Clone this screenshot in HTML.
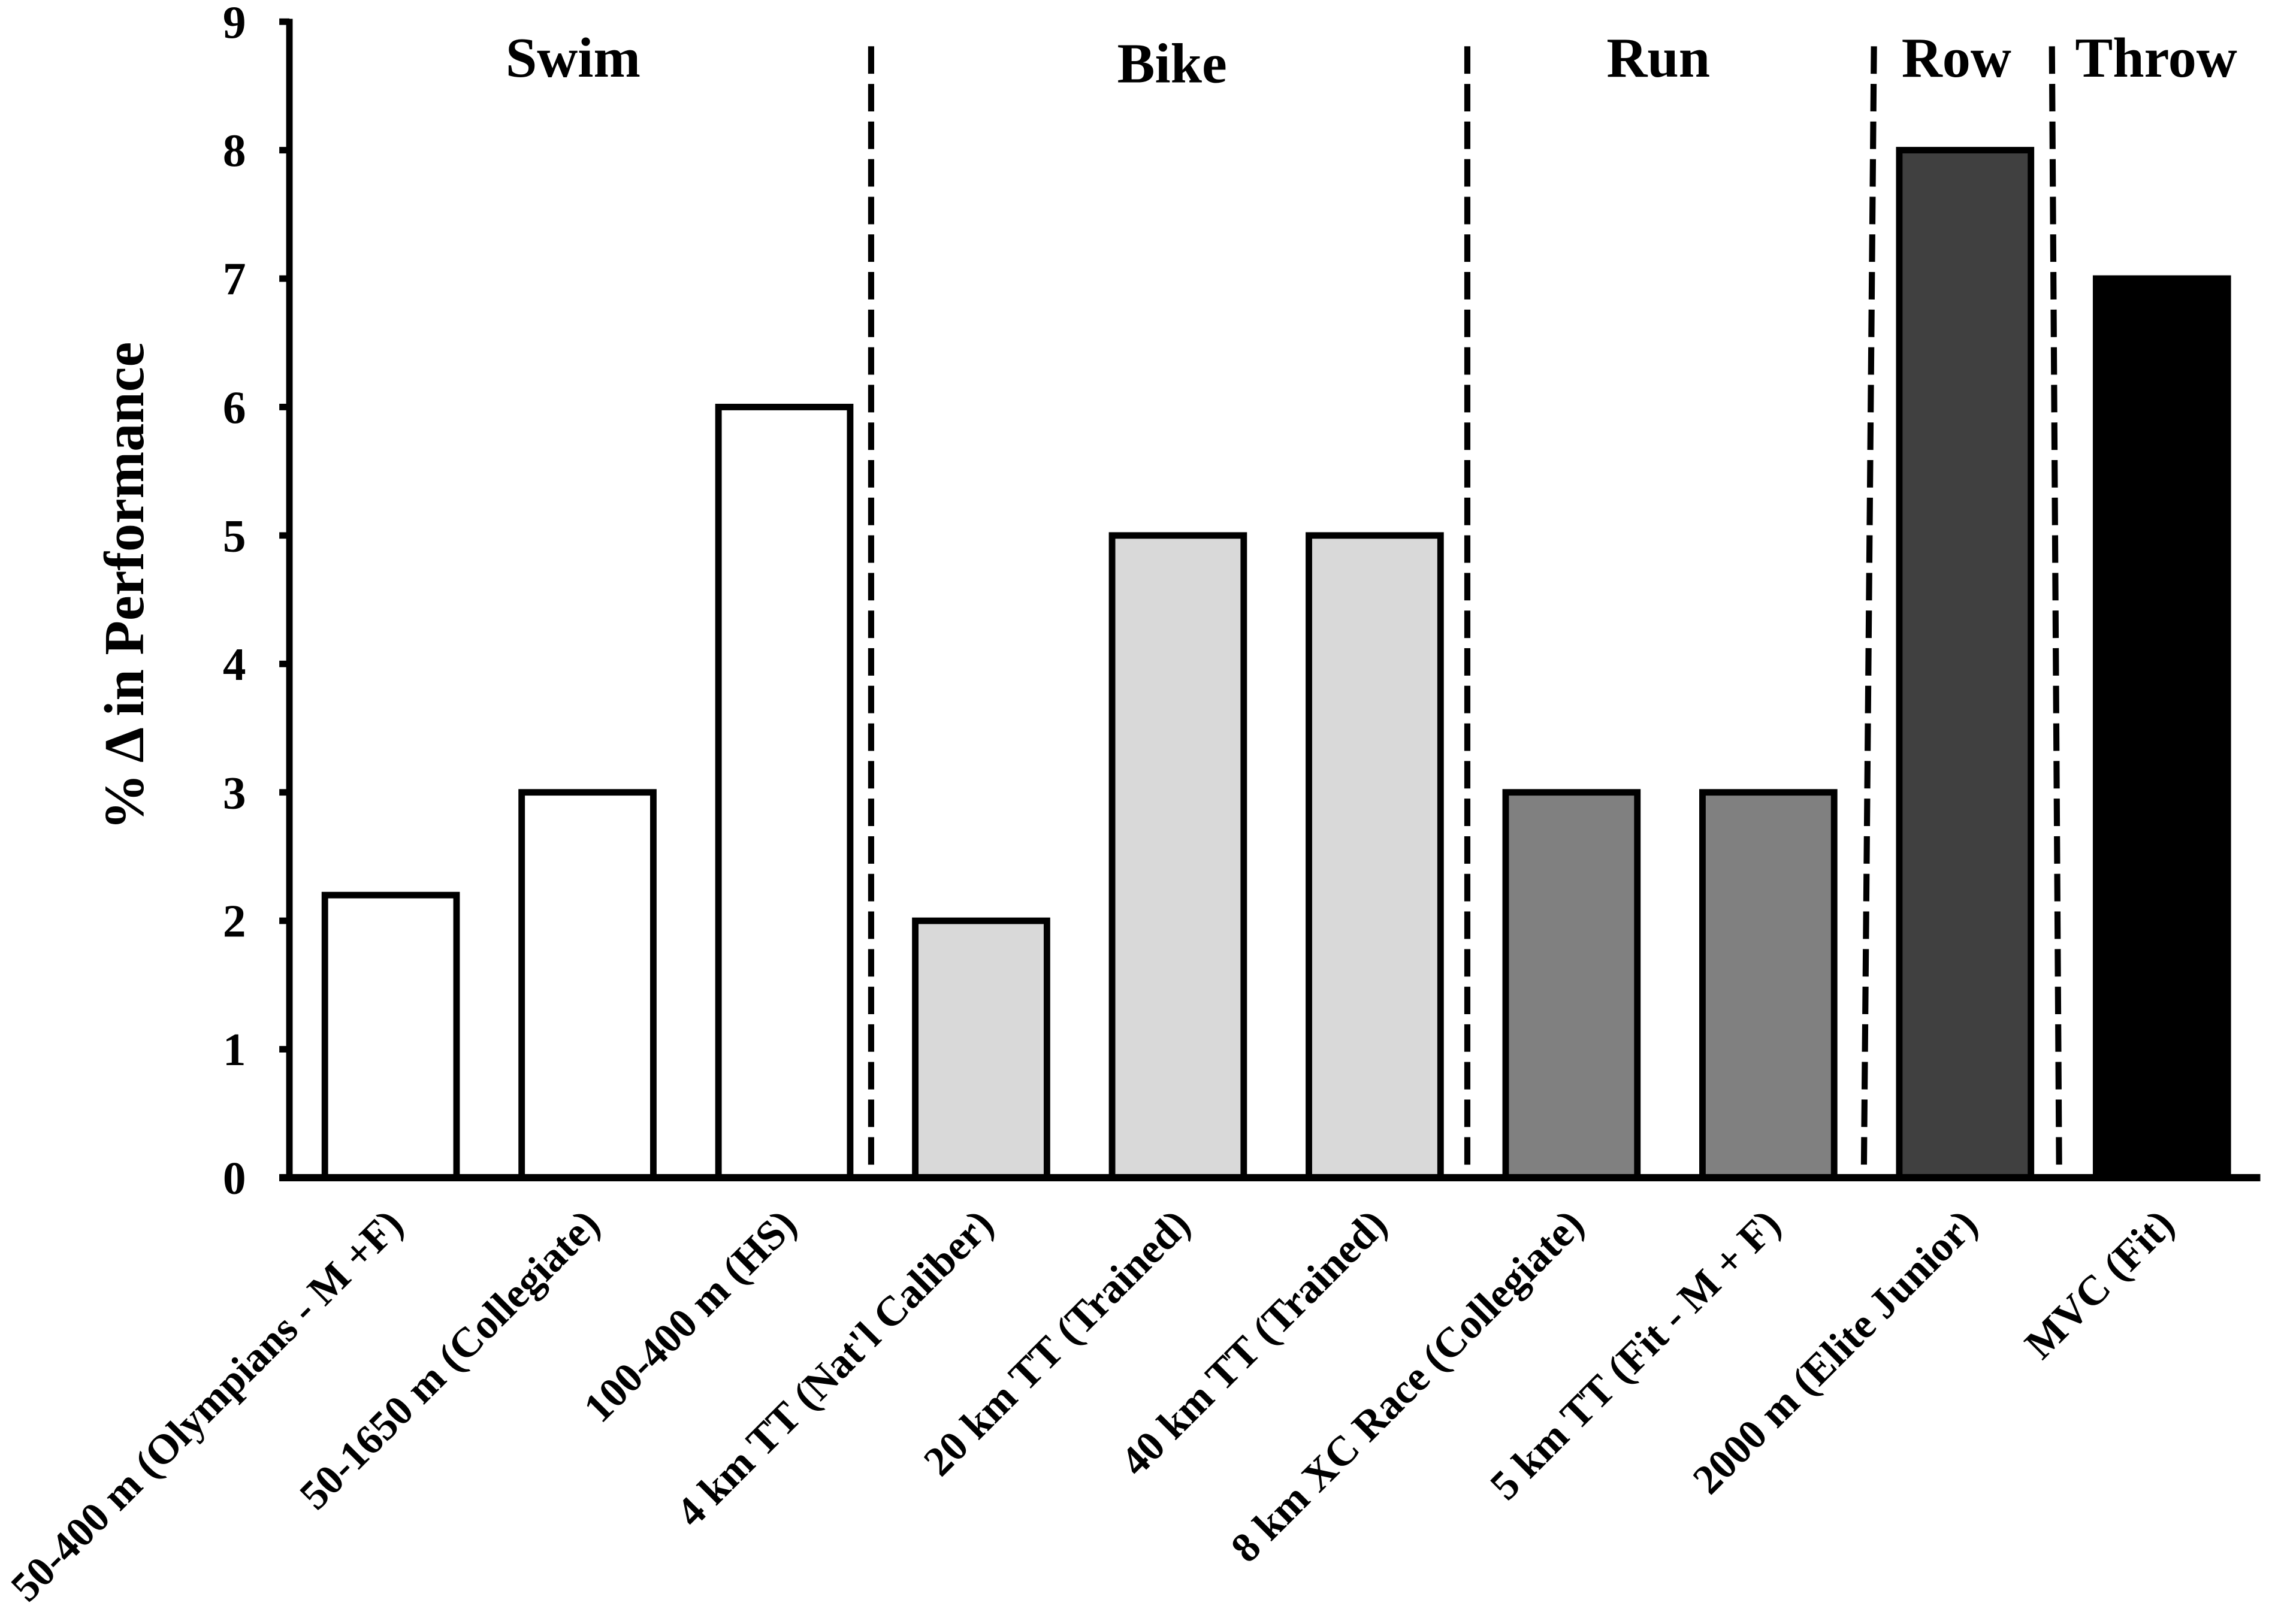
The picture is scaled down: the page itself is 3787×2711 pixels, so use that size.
<!DOCTYPE html>
<html><head><meta charset="utf-8"><style>
html,body{margin:0;padding:0;background:#fff;}
svg{display:block;}
text{font-family:"Liberation Serif",serif;font-weight:bold;fill:#000;}
</style></head><body>
<svg id="chart" width="3787" height="2711" viewBox="0 0 1568 1122.5" preserveAspectRatio="none" xmlns="http://www.w3.org/2000/svg">
<g id="plot"></g>
</svg>
<script>
const categories = ["50-400 m (Olympians - M +F)","50-1650 m (Collegiate)","100-400 m (HS)","4 km TT (Nat'l Caliber)","20 km TT (Trained)","40 km TT (Trained)","8 km XC Race (Collegiate)","5 km TT (Fit - M + F)","2000 m (Elite Junior)","MVC (Fit)"];
const values = [2.2, 3, 6, 2, 5, 5, 3, 3, 8, 7];
const fills = ["#ffffff","#ffffff","#ffffff","#d9d9d9","#d9d9d9","#d9d9d9","#808080","#808080","#404040","#000000"];
const yTicks = [0,1,2,3,4,5,6,7,8,9];
const groups = ["Swim","Bike","Run","Row","Throw"];
const NS="http://www.w3.org/2000/svg";
const g=document.getElementById('plot');
const x0=200, y0=814, yTop=15, pitch=136, first=270, bw=91;
const yScale=v=>y0-(y0-yTop)*v/9;
const xc=i=>first+i*pitch;
function mk(tag,attrs){const e=document.createElementNS(NS,tag);for(const k in attrs)e.setAttribute(k,attrs[k]);g.appendChild(e);return e;}
values.forEach((v,i)=>{
  const r=mk('rect',{x:xc(i)-bw/2,y:yScale(v),width:bw,height:y0-yScale(v),fill:fills[i],stroke:'#000','stroke-width':4.5});
  
  
});
const divs=[[602,602],[1014,1014],[1295,1288],[1418,1423]];
divs.forEach((d,i)=>{
  const l=mk('line',{x1:d[0],y1:32,x2:d[1],y2:y0,stroke:'#000','stroke-width':4.2,'stroke-dasharray':'19 7'});
  
  
});
const ya=mk('line',{x1:x0,y1:13,x2:x0,y2:y0+2,stroke:'#000','stroke-width':4.5});


const xa=mk('line',{x1:193,y1:y0,x2:1562,y2:y0,stroke:'#000','stroke-width':5});


yTicks.forEach(t=>{
  const tk=mk('line',{x1:193,y1:yScale(t),x2:x0,y2:yScale(t),stroke:'#000','stroke-width':4.5});
  
  
  const tx=mk('text',{x:170,y:yScale(t)+11,'font-size':32,'text-anchor':'end'});
  tx.textContent=t;
  
  
});
const gy=[53,57,53,53,53];
const gx=[396,810,1146,1352,1490];
groups.forEach((n,i)=>{
  const t=mk('text',{x:gx[i],y:gy[i],'font-size':39,'text-anchor':'middle'});
  t.textContent=n;
  
  
});
categories.forEach((c,i)=>{
  const ax=xc(i)+10, ay=848;
  const t=mk('text',{x:ax,y:ay,'font-size':29,'text-anchor':'end',transform:`rotate(-45 ${ax} ${ay})`});
  t.textContent=c;
  
  
});
const yt=mk('text',{x:0,y:0,'font-size':39,'text-anchor':'middle',transform:'translate(99 405) rotate(-90)'});
yt.textContent='% \u0394 in Performance';


</script>
</body></html>
